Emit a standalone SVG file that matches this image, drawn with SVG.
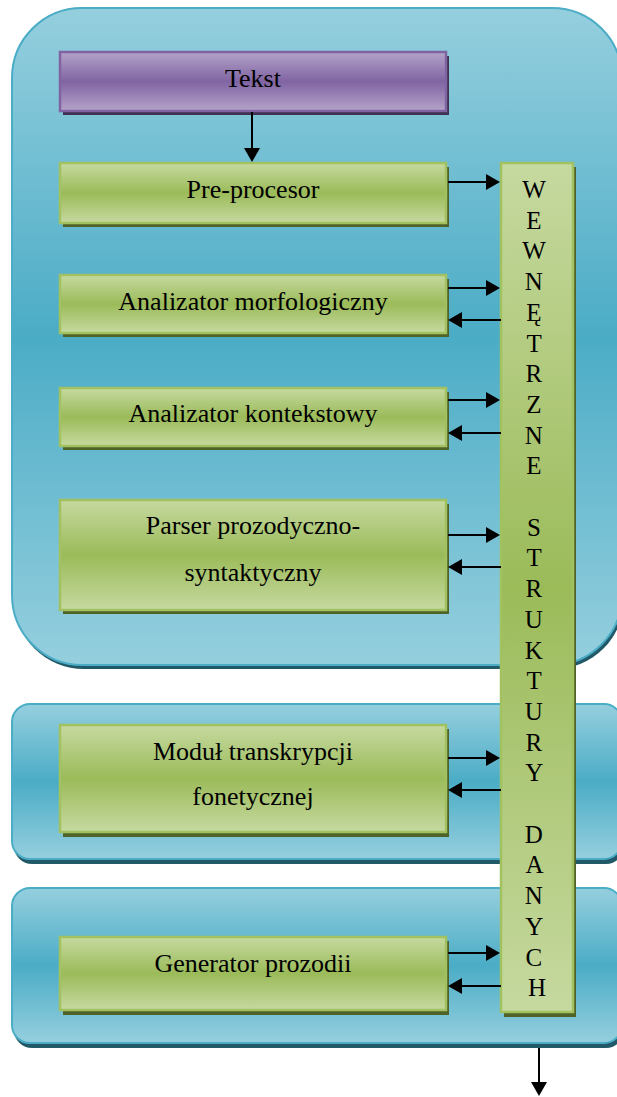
<svg xmlns="http://www.w3.org/2000/svg" width="617" height="1097" viewBox="0 0 617 1097">
<defs>
<linearGradient id="gPanel" x1="0" y1="0" x2="0" y2="1">
<stop offset="0" stop-color="#95CFDE"/>
<stop offset="0.5" stop-color="#4BACC6"/>
<stop offset="1" stop-color="#95CFDE"/>
</linearGradient>
<linearGradient id="gGreen" x1="0" y1="0" x2="0" y2="1">
<stop offset="0" stop-color="#C6D9A0"/>
<stop offset="0.5" stop-color="#9BBB59"/>
<stop offset="1" stop-color="#C6D9A0"/>
</linearGradient>
<linearGradient id="gPurple" x1="0" y1="0" x2="0" y2="1">
<stop offset="0" stop-color="#B4A3C9"/>
<stop offset="0.5" stop-color="#8064A2"/>
<stop offset="1" stop-color="#B4A3C9"/>
</linearGradient>
<marker id="arr" markerUnits="userSpaceOnUse" markerWidth="14" markerHeight="16" refX="10" refY="8" orient="auto">
<path d="M0,0 L14,8 L0,16 Z" fill="#000"/>
</marker>
<style>
.panel{fill:url(#gPanel);stroke:#4BACC6;stroke-width:2}
.pshadow{fill:#215968}
.box{fill:url(#gGreen);stroke:#A2C160;stroke-width:2.5}
.bshadow{fill:#4F6228}
.pbox{fill:url(#gPurple);stroke:#8064A2;stroke-width:2.5}
.pbshadow{fill:#3F3151}
.lbl{font-family:"Liberation Serif","Times New Roman",serif;font-size:26px;fill:#000;text-anchor:middle}
.vl{font-family:"Liberation Serif","Times New Roman",serif;font-size:25px;fill:#000;text-anchor:middle}
.conn{stroke:#000;stroke-width:2;fill:none;marker-end:url(#arr)}
</style>
</defs>

<g id="panel1">
<rect class="pshadow" x="14" y="12" width="610" height="657" rx="70" ry="70"/>
<rect class="panel" x="12" y="8" width="610" height="657" rx="70" ry="70"/>
</g>
<g id="panel2">
<rect class="pshadow" x="14" y="708" width="610" height="156" rx="18" ry="18"/>
<rect class="panel" x="12" y="704" width="610" height="155" rx="18" ry="18"/>
</g>
<g id="panel3">
<rect class="pshadow" x="14" y="892" width="610" height="156" rx="18" ry="18"/>
<rect class="panel" x="12" y="888" width="610" height="155" rx="18" ry="18"/>
</g>

<g id="tekst">
<rect class="pbshadow" x="63" y="56" width="386" height="59"/>
<rect class="pbox" x="60" y="52" width="386" height="59"/>
<text class="lbl" x="253" y="87">Tekst</text>
</g>
<g id="preprocesor">
<rect class="bshadow" x="63" y="167" width="386" height="60"/>
<rect class="box" x="60" y="163" width="386" height="60"/>
<text class="lbl" x="253" y="198">Pre-procesor</text>
</g>
<g id="morfologiczny">
<rect class="bshadow" x="63" y="279" width="386" height="58"/>
<rect class="box" x="60" y="275" width="386" height="58"/>
<text class="lbl" x="253" y="310">Analizator morfologiczny</text>
</g>
<g id="kontekstowy">
<rect class="bshadow" x="63" y="392" width="386" height="58"/>
<rect class="box" x="60" y="388" width="386" height="58"/>
<text class="lbl" x="253" y="422">Analizator kontekstowy</text>
</g>
<g id="parser">
<rect class="bshadow" x="63" y="504" width="386" height="110"/>
<rect class="box" x="60" y="500" width="386" height="110"/>
<text class="lbl" x="253" y="534">Parser prozodyczno-</text>
<text class="lbl" x="253" y="581">syntaktyczny</text>
</g>
<g id="modul">
<rect class="bshadow" x="63" y="729" width="386" height="108"/>
<rect class="box" x="60" y="725" width="386" height="107"/>
<text class="lbl" x="253" y="760">Moduł transkrypcji</text>
<text class="lbl" x="253" y="805">fonetycznej</text>
</g>
<g id="generator">
<rect class="bshadow" x="63" y="941" width="386" height="74"/>
<rect class="box" x="60" y="937" width="386" height="73"/>
<text class="lbl" x="253" y="972">Generator prozodii</text>
</g>

<g id="struktury">
<rect class="bshadow" x="504" y="167" width="72" height="850"/>
<rect class="box" x="501" y="163" width="72" height="849"/>
<text class="vl">
<tspan x="537" y="198">W</tspan>
<tspan x="537" y="228.7">E</tspan>
<tspan x="537" y="259.4">W</tspan>
<tspan x="537" y="290.1">N</tspan>
<tspan x="537" y="320.8">Ę</tspan>
<tspan x="537" y="351.5">T</tspan>
<tspan x="537" y="382.2">R</tspan>
<tspan x="537" y="412.9">Z</tspan>
<tspan x="537" y="443.6">N</tspan>
<tspan x="537" y="474.3">E</tspan>
<tspan x="537" y="535.7">S</tspan>
<tspan x="537" y="566.4">T</tspan>
<tspan x="537" y="597.1">R</tspan>
<tspan x="537" y="627.8">U</tspan>
<tspan x="537" y="658.5">K</tspan>
<tspan x="537" y="689.2">T</tspan>
<tspan x="537" y="719.9">U</tspan>
<tspan x="537" y="750.6">R</tspan>
<tspan x="537" y="781.3">Y</tspan>
<tspan x="537" y="842.7">D</tspan>
<tspan x="537" y="873.4">A</tspan>
<tspan x="537" y="904.1">N</tspan>
<tspan x="537" y="934.8">Y</tspan>
<tspan x="537" y="965.5">C</tspan>
<tspan x="537" y="996.2">H</tspan>
</text>
</g>

<g id="connectors">
<line class="conn" x1="252" y1="112" x2="252" y2="158"/>
<line class="conn" x1="448" y1="182" x2="496" y2="182"/>
<line class="conn" x1="448" y1="288" x2="496" y2="288"/>
<line class="conn" x1="501" y1="320" x2="452" y2="320"/>
<line class="conn" x1="448" y1="400" x2="496" y2="400"/>
<line class="conn" x1="501" y1="433" x2="452" y2="433"/>
<line class="conn" x1="448" y1="535" x2="496" y2="535"/>
<line class="conn" x1="501" y1="567" x2="452" y2="567"/>
<line class="conn" x1="448" y1="758" x2="496" y2="758"/>
<line class="conn" x1="501" y1="790" x2="452" y2="790"/>
<line class="conn" x1="448" y1="953" x2="496" y2="953"/>
<line class="conn" x1="501" y1="986" x2="452" y2="986"/>
<line class="conn" x1="539" y1="1048" x2="539" y2="1092"/>
</g>
</svg>
